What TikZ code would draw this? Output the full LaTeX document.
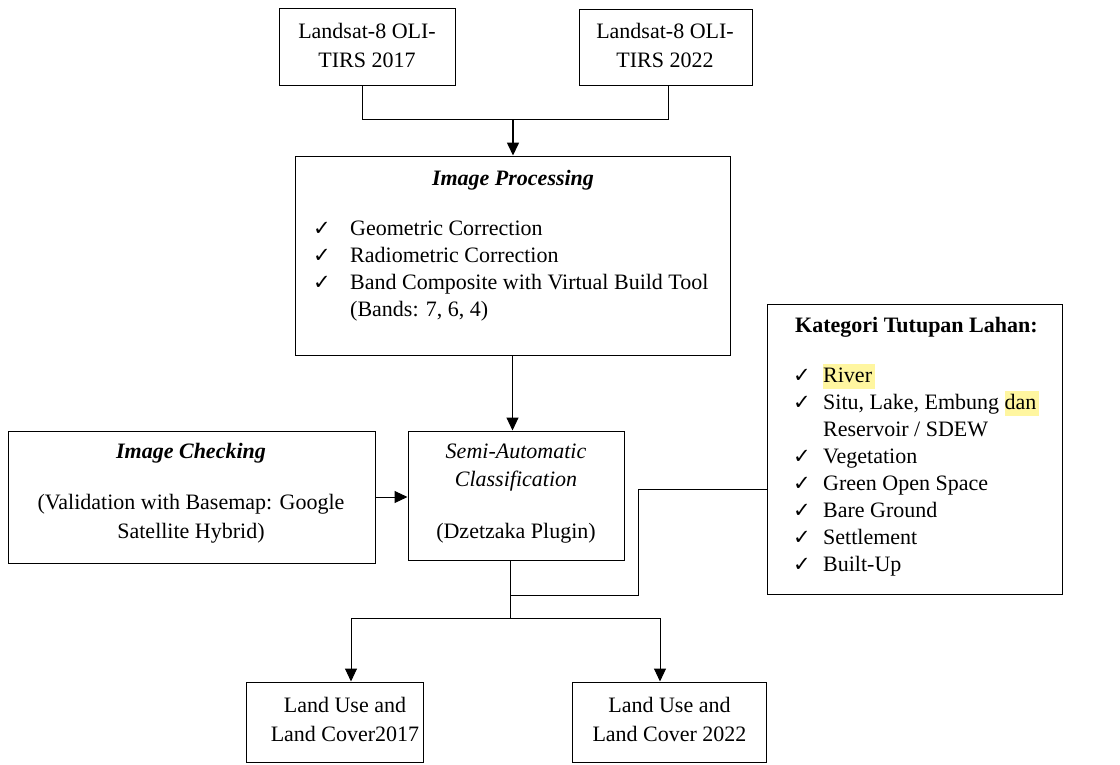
\documentclass[tikz,border=0pt]{standalone}
\usepackage{fontspec}
\setmainfont{Liberation Serif}
\newfontfamily\symfont{DejaVu Sans}
\usetikzlibrary{arrows.meta}
\definecolor{hl}{RGB}{255,246,160}
\newcommand\hlt[1]{{\setlength{\fboxsep}{0pt}\colorbox{hl}{\rule[-7pt]{0pt}{25pt}#1\hspace{3pt}}}}
\begin{document}
\begin{tikzpicture}[x=1pt,y=-1pt,
  box/.style={draw, line width=1pt, inner sep=0pt},
  txt/.style={inner sep=0pt, align=center, font=\fontsize{22}{29}\selectfont},
  ltxt/.style={inner sep=0pt, anchor=west, text height=15pt, text depth=5pt, font=\fontsize{22}{27}\selectfont},
  chk/.style={inner sep=0pt, font=\symfont\fontsize{21}{22}\selectfont},
  ln/.style={line width=1pt},
  arr/.style={line width=1pt, -{Triangle[width=12pt,length=13pt]}}]
\useasboundingbox (0,0) rectangle (1120,764);
% boxes
\node[box, minimum width=176pt, minimum height=77pt] (l17) at (367,46.5) {};
\node[box, minimum width=173pt, minimum height=76pt] (l22) at (665.5,47) {};
\node[box, minimum width=435pt, minimum height=199pt] (proc) at (512.5,255.5) {};
\node[box, minimum width=367pt, minimum height=132pt] (chkbox) at (191.5,497) {};
\node[box, minimum width=216pt, minimum height=129pt] (semi) at (516,495.5) {};
\node[box, minimum width=295pt, minimum height=290pt] (kat) at (914.5,449) {};
\node[box, minimum width=177pt, minimum height=80pt] (lu17) at (334.5,722) {};
\node[box, minimum width=194pt, minimum height=80pt] (lu22) at (669,722) {};
% texts
\node[txt] (t17) at (367,45.5) {Landsat-8 OLI-\\TIRS 2017};
\node[txt] (t22) at (665,45.5) {Landsat-8 OLI-\\TIRS 2022};
\node[txt] (ptitle) at (513,180) {\textbf{\textit{Image Processing}}};
\node[chk] (pc1) at (322,229) {✓};
\node[chk] (pc2) at (322,256) {✓};
\node[chk] (pc3) at (322,283) {✓};
\node[ltxt] (pl1) at (350,230) {Geometric Correction};
\node[ltxt] (pl2) at (350,257) {Radiometric Correction};
\node[ltxt] (pl3) at (350,284) {Band Composite with Virtual Build Tool};
\node[ltxt] (pl4) at (350,311) {(Bands: 7, 6, 4)};
\node[txt] (ctitle) at (191,453) {\textbf{\textit{Image Checking}}};
\node[txt] (ctext) at (191,518.5) {(Validation with Basemap: Google\\Satellite Hybrid)};
\node[txt, font=\fontsize{22}{28}\selectfont] (stitle) at (516,468) {\textit{Semi-Automatic}\\\textit{Classification}};
\node[txt] (stext) at (516,533) {(Dzetzaka Plugin)};
\node[txt] (u17) at (345,719.5) {Land Use and\\Land Cover2017};
\node[txt] (u22) at (669.5,719.5) {Land Use and\\Land Cover 2022};
% kategori
\node[ltxt] (ktitle) at (795,327) {\textbf{Kategori Tutupan Lahan:}};
\foreach \y/\n in {376/1,403/2,457/4,484/5,511/6,538/7,565/8}
  \node[chk] (kc\n) at (802,\y) {✓};
\node[ltxt] (k1t) at (823,377) {\hlt{River}};
\node[ltxt] (k2t) at (823,404) {Situ, Lake, Embung \hlt{dan}};
\node[ltxt] (k3t) at (823,431) {Reservoir / SDEW};
\node[ltxt] (k4t) at (823,458) {Vegetation};
\node[ltxt] (k5t) at (823,485) {Green Open Space};
\node[ltxt] (k6t) at (823,512) {Bare Ground};
\node[ltxt] (k7t) at (823,539) {Settlement};
\node[ltxt] (k8t) at (823,566) {Built-Up};
% connectors
\coordinate (j1) at (513,119);
\coordinate (j2) at (510,618);
\coordinate (j3) at (510,595);
\coordinate (k1) at (638,489);
\draw[ln] ([xshift=-5pt]l17.south) |- ([xshift=2.5pt]l22.south |- j1) -- ([xshift=2.5pt]l22.south);
\draw[arr, line width=1.6pt] (j1) -- (j1 |- proc.north);
\draw[arr] (proc.south) -- (proc.south |- semi.north);
\draw[arr] (chkbox.east) -- (semi.west |- chkbox.east);
\draw[ln] ([xshift=-6pt]semi.south) -- (j2);
\draw[ln] (kat.west |- k1) -- (k1) |- (j3);
\draw[arr] (j2) -| ([xshift=16.5pt]lu17.north);
\draw[arr] (j2) -| ([xshift=-9pt]lu22.north);
\end{tikzpicture}
\end{document}
